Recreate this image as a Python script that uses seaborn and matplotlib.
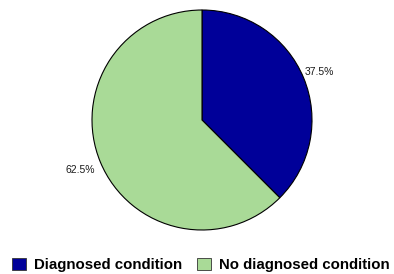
import seaborn as sns
import matplotlib.pyplot as plt
from matplotlib.patches import Patch

categories = ['Diagnosed condition', 'No diagnosed condition']
shares = [37.5, 62.5]
colors = ['#000099', '#A9DA97']

sns.set_style("white")
plt.rcParams['font.family'] = ['Liberation Sans', 'DejaVu Sans']

fig = plt.figure(figsize=(3.94, 2.74), dpi=100)
ax = fig.add_axes([92/394, 44/274, 220/394, 220/274])

wedges, texts, autotexts = ax.pie(
    shares, colors=colors, startangle=90, counterclock=False,
    autopct='%1.1f%%', pctdistance=1.15,
    wedgeprops=dict(edgecolor='black', linewidth=0.8),
    textprops=dict(fontsize=7.5, color='#1a1a1a'))
# nudge the left label a little further out like the original
x, y = autotexts[1].get_position()
autotexts[1].set_position((x * 1.04, y * 1.04))
ax.set_xlim(-1.0, 1.0)
ax.set_ylim(-1.0, 1.0)
ax.axis('off')

handles = [Patch(facecolor=c, edgecolor='#333333', linewidth=0.6) for c in colors]
leg = fig.legend(handles, categories, loc='center', bbox_to_anchor=(0.51, 0.033),
                 ncol=2, frameon=False, handlelength=0.9, handleheight=0.9,
                 handletextpad=0.55, columnspacing=1.0,
                 prop=dict(size=10.8, weight='bold'))
for t in leg.get_texts():
    t.set_color('black')

fig.savefig('out.png', dpi=100)
